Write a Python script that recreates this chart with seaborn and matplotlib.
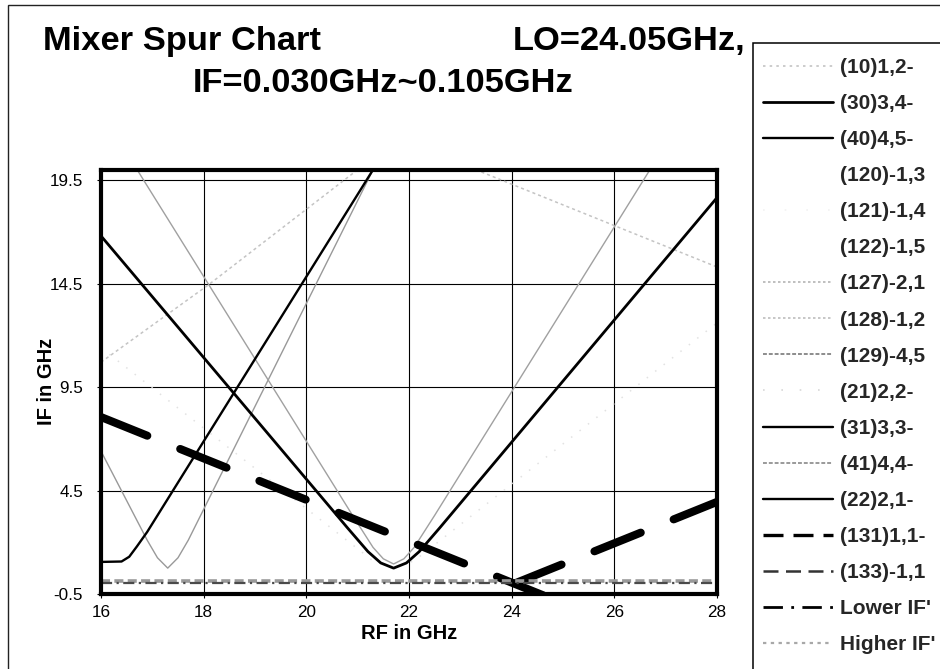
import matplotlib
matplotlib.use("Agg")
import matplotlib.pyplot as plt
from matplotlib.lines import Line2D
from matplotlib.patches import Rectangle
import seaborn as sns

# ---- spur curves: RF (GHz) vs. IF (GHz) ----
LO_GHZ = 24.05
LOWER_IF = 0.030
HIGHER_IF = 0.105

rf_30 = [16.0, 20.8, 21.2, 21.45, 21.7, 21.95, 22.2, 22.6, 28.0]
if_30 = [16.8, 2.7, 1.55, 1.0, 0.75, 1.0, 1.55, 2.7, 18.65]

rf_40 = [16.0, 16.4, 16.55, 16.7, 16.9, 21.3, 21.6]
if_40 = [1.05, 1.07, 1.3, 1.8, 2.5, 20.0, 21.2]

rf_129 = [16.0, 16.9, 17.1, 17.3, 17.5, 17.7, 21.3]
if_129 = [6.4, 2.1, 1.25, 0.75, 1.25, 2.1, 20.0]

rf_41 = [16.0, 20.9, 21.3, 21.5, 21.7, 21.9, 22.1, 22.5, 28.0]
if_41 = [22.8, 3.3, 1.75, 1.2, 0.95, 1.2, 1.75, 3.3, 25.2]

rf_10 = [16.0, 18.1, 21.0]
if_10 = [10.7, 14.45, 20.0]

rf_127 = [23.3, 28.0]
if_127 = [20.0, 15.3]

rf_21 = [16.0, 21.3, 21.7, 22.1, 28.0]
if_21 = [11.4, 1.1, 0.8, 1.1, 12.6]

rf_span = [16.0, 28.0]
if_131 = [-8.05, 3.95]   # RF - LO
if_133 = [8.05, -3.95]   # LO - RF
if_lower = [LOWER_IF, LOWER_IF]
if_higher = [HIGHER_IF, HIGHER_IF]

x_ticks = [16, 18, 20, 22, 24, 26, 28]
y_ticks = [-0.5, 4.5, 9.5, 14.5, 19.5]

legend_labels = ["(10)1,2-", "(30)3,4-", "(40)4,5-", "(120)-1,3", "(121)-1,4",
                 "(122)-1,5", "(127)-2,1", "(128)-1,2", "(129)-4,5", "(21)2,2-",
                 "(31)3,3-", "(41)4,4-", "(22)2,1-", "(131)1,1-", "(133)-1,1",
                 "Lower IF'", "Higher IF'"]

# ---- styling ----
sns.set_theme(style="white")
plt.rcParams['font.family'] = ['Liberation Sans', 'DejaVu Sans']

W, H = 940, 669
fig = plt.figure(figsize=(W / 100, H / 100), dpi=100)
fig.patch.set_facecolor("white")

def fx(px):
    return px / W

def fy(py):
    return 1 - py / H

ax = fig.add_axes([fx(101), fy(594), fx(717) - fx(101), fy(169.7) - fy(594)])

def draw(rf, vals, **kw):
    sns.lineplot(x=rf, y=vals, ax=ax, sort=False, estimator=None, legend=False, **kw)

# faint / light dotted spurs
draw(rf_21, if_21, color="#e2e2e2", linewidth=1.1, linestyle=(0, (1, 6)))
draw(rf_10, if_10, color="#c4c4c4", linewidth=1.1, linestyle=(0, (2, 2)))
draw(rf_127, if_127, color="#c4c4c4", linewidth=1.1, linestyle=(0, (2, 2)))
# gray spurs
draw(rf_129, if_129, color="#999999", linewidth=1.0)
draw(rf_41, if_41, color="#a0a0a0", linewidth=1.0)
# black spurs
draw(rf_30, if_30, color="black", linewidth=2.0)
draw(rf_40, if_40, color="black", linewidth=1.7)
# image / fundamental lines
draw(rf_span, if_133, color="black", linewidth=5.8,
     linestyle=(0, (6.2, 4.4)), dash_capstyle="round")
draw(rf_span, if_131, color="black", linewidth=5.8,
     linestyle=(3.0, (6.2, 4.4)), dash_capstyle="round")
# IF limits
draw(rf_span, if_higher, color="#9a9a9a", linewidth=2.6, linestyle=(0, (2.5, 1.2)))
draw(rf_span, if_lower, color="#4a4a4a", linewidth=1.6, linestyle=(0, (5, 2, 1, 2)))

ax.set_xlim(16, 28)
ax.set_ylim(-0.5, 20.0)
ax.set_xticks(x_ticks)
ax.set_xticklabels([str(v) for v in x_ticks])
ax.set_yticks(y_ticks)
ax.set_yticklabels([f"{v:.1f}" for v in y_ticks])
ax.grid(True, color="black", linewidth=0.8)
ax.set_axisbelow(True)
for s in ax.spines.values():
    s.set_visible(True)
    s.set_linewidth(3.0)
    s.set_color("black")
ax.tick_params(axis="both", labelsize=12.3, colors="black", length=3,
               width=0.8, left=True, bottom=True)
ax.tick_params(axis="y", pad=10)
ax.tick_params(axis="x", pad=5)

ax.set_xlabel("RF in GHz", fontsize=14.5, fontweight="bold", color="black")
ax.set_ylabel("IF in GHz", fontsize=14.5, fontweight="bold", color="black")
ax.xaxis.set_label_coords(0.5, (594 - 624) / 424.3)
ax.yaxis.set_label_coords((56 - 101) / 616, 0.5)

# chart title
title_kw = dict(fontsize=24.8, fontweight="bold", color="black", va="baseline")
fig.text(fx(43), fy(50), "Mixer Spur Chart", ha="left", **title_kw)
fig.text(fx(745), fy(50), f"LO={LO_GHZ:.2f}GHz,", ha="right", **title_kw)
fig.text(fx(193), fy(92), f"IF={LOWER_IF:.3f}GHz~{HIGHER_IF:.3f}GHz", ha="left", **title_kw)

# chart-area and legend borders
fig.add_artist(Rectangle((fx(8), fy(H + 20)), 1.2, fy(5) - fy(H + 20),
                         transform=fig.transFigure, fill=False,
                         edgecolor="#222222", linewidth=1.0, clip_on=False))
fig.add_artist(Rectangle((fx(753), fy(H + 20)), 1.2, fy(43) - fy(H + 20),
                         transform=fig.transFigure, fill=False,
                         edgecolor="black", linewidth=1.1, clip_on=False))

# legend entries
handle_styles = [
    dict(color="#c4c4c4", lw=1.2, ls=(0, (1.5, 2.5))),
    dict(color="black", lw=2.0, ls="-"),
    dict(color="black", lw=1.7, ls="-"),
    dict(color="white", lw=1.2, ls="-"),
    dict(color="#f2f2f2", lw=1.2, ls=(0, (1, 12))),
    dict(color="white", lw=1.2, ls="-"),
    dict(color="#b4b4b4", lw=1.2, ls=(0, (1.5, 1.5))),
    dict(color="#bdbdbd", lw=1.2, ls=(0, (1.5, 1.5))),
    dict(color="#8c8c8c", lw=1.4, ls=(0, (2, 1))),
    dict(color="#d8d8d8", lw=1.2, ls=(0, (1, 10))),
    dict(color="black", lw=1.7, ls="-"),
    dict(color="#9a9a9a", lw=1.4, ls=(0, (2, 1))),
    dict(color="black", lw=1.7, ls="-"),
    dict(color="black", lw=2.4, ls=(0, (6, 3))),
    dict(color="#333333", lw=1.8, ls=(0, (6, 3))),
    dict(color="black", lw=2.0, ls=(0, (7, 3, 1, 3))),
    dict(color="#a8a8a8", lw=1.6, ls=(0, (1.5, 2))),
]
handles = [Line2D([0], [0], color=s["color"], linewidth=s["lw"], linestyle=s["ls"])
           for s in handle_styles]
fs_leg = 15
px_per_fs = fs_leg * 100 / 72
leg = fig.legend(handles, legend_labels, loc="upper left",
                 bbox_to_anchor=(fx(763), fy(58)), frameon=False,
                 prop=dict(size=fs_leg, weight="bold"),
                 handlelength=70 / px_per_fs, handletextpad=7 / px_per_fs,
                 labelspacing=0.82, borderpad=0, borderaxespad=0)

fig.savefig("out.png", dpi=100, facecolor="white")
